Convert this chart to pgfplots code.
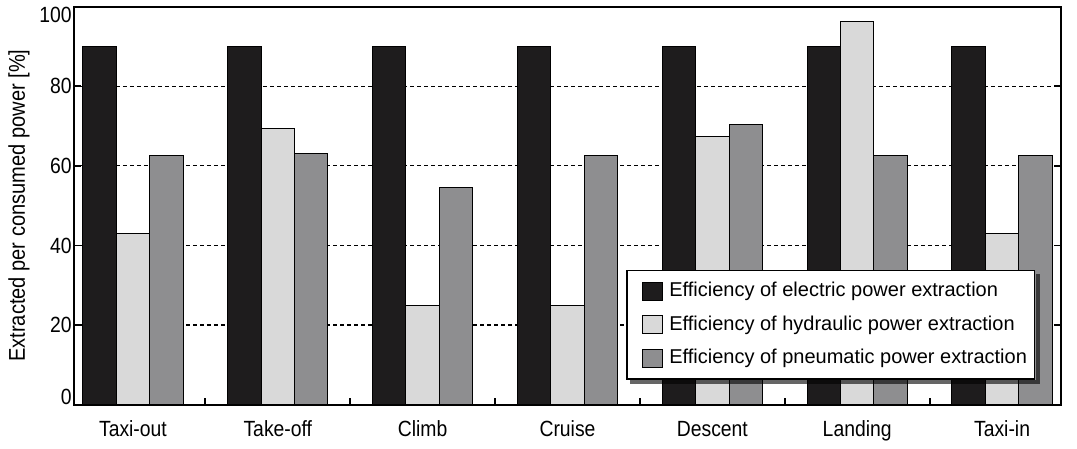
\documentclass[border=0pt]{standalone}
\usepackage{pgfplots}
\pgfplotsset{compat=1.18}
\usepackage{pgfplotstable}
\usepackage{fontspec}
\setmainfont{Liberation Sans}
\newfontfamily\narrowfont{Liberation Sans}[FakeStretch=0.88]

\definecolor{elec}{HTML}{1E1C1D}
\definecolor{hydr}{HTML}{D9D9D9}
\definecolor{pneu}{HTML}{8E8E90}

% Efficiency per flight phase [%]
\pgfplotstableread{
x elec hydr pneu
0 90 43   62.5
1 90 69.5 63
2 90 25   54.5
3 90 25   62.5
4 90 67.5 70.5
5 90 96.3 62.5
6 90 43   62.5
}\efficiency

\begin{document}
\begin{tikzpicture}
\begin{axis}[
  scale only axis,
  width=493.5pt, height=199pt,
  xmin=-0.407, xmax=6.407,
  ymin=0, ymax=100,
  ybar=0pt, bar width=0.231,
  axis line style={line width=1pt},
  tick align=inside,
  major tick length=3.5pt,
  tick style={black, line width=0.9pt},
  xtick={0.5,1.5,...,5.5},
  xticklabels={},
  xtick pos=left,
  extra x ticks={0,1,2,3,4,5,6},
  extra x tick labels={Taxi-out,Take-off,Climb,Cruise,Descent,Landing,Taxi-in},
  extra x tick style={major tick length=0pt},
  xticklabel style={font=\narrowfont\fontsize{11}{13}\selectfont,
    text height=8pt, text depth=2.5pt, yshift=-4.5pt},
  ytick={0,20,40,60,80,100},
  yticklabels={\smash{0},20,40,60,80,\smash{\raisebox{-7.9pt}{100}}},
  yticklabel style={font=\narrowfont\fontsize{11}{13}\selectfont, inner xsep=1pt},
  /pgf/number format/assume math mode=true,
  ymajorgrids,
  grid style={black, line width=0.6pt, dash pattern=on 2pt off 1.5pt},
  ylabel={Extracted per consumed power [\%]},
  ylabel style={font=\narrowfont\fontsize{11.4}{13}\selectfont, inner sep=0pt,
    at={([xshift=-27.5pt]axis description cs:0,0.5)}, anchor=center},
  legend style={name=lgd, at={(0.974,0.063)}, anchor=south east,
    draw=black, line width=0.8pt, fill=white,
    font=\fontsize{10}{12}\selectfont,
    row sep=4pt, inner xsep=1.8pt, inner ysep=4pt},
  legend cell align=left,
  legend image code/.code={
    \draw[#1, draw=black, line width=0.5pt] (0pt,-4.5pt) rectangle (10pt,4.5pt);
    \path (-5.7pt,0pt) (11.3pt,0pt);},
]
\addplot[fill=elec, draw=black, line width=0.5pt, bar shift=-0.231] table[x=x, y=elec] {\efficiency};
\addplot[fill=hydr, draw=black, line width=0.5pt, bar shift=0] table[x=x, y=hydr] {\efficiency};
\addplot[fill=pneu, draw=black, line width=0.5pt, bar shift=0.231] table[x=x, y=pneu] {\efficiency};
\legend{Efficiency of electric power extraction,
        Efficiency of hydraulic power extraction,
        Efficiency of pneumatic power extraction}
\end{axis}
% shadow along the right and lower edges of the legend box
\fill[black, opacity=0.6]
  ([shift={(0.4pt,-2.2pt)}]lgd.north east) rectangle ([shift={(2.4pt,-2.4pt)}]lgd.south east);
\fill[black, opacity=0.6]
  ([shift={(2.2pt,-0.4pt)}]lgd.south west) rectangle ([shift={(0.4pt,-2.4pt)}]lgd.south east);
% page margins around the frame
\path ([xshift=-37pt]current axis.west);
\path ([xshift=8pt]current axis.east);
\end{tikzpicture}
\end{document}
